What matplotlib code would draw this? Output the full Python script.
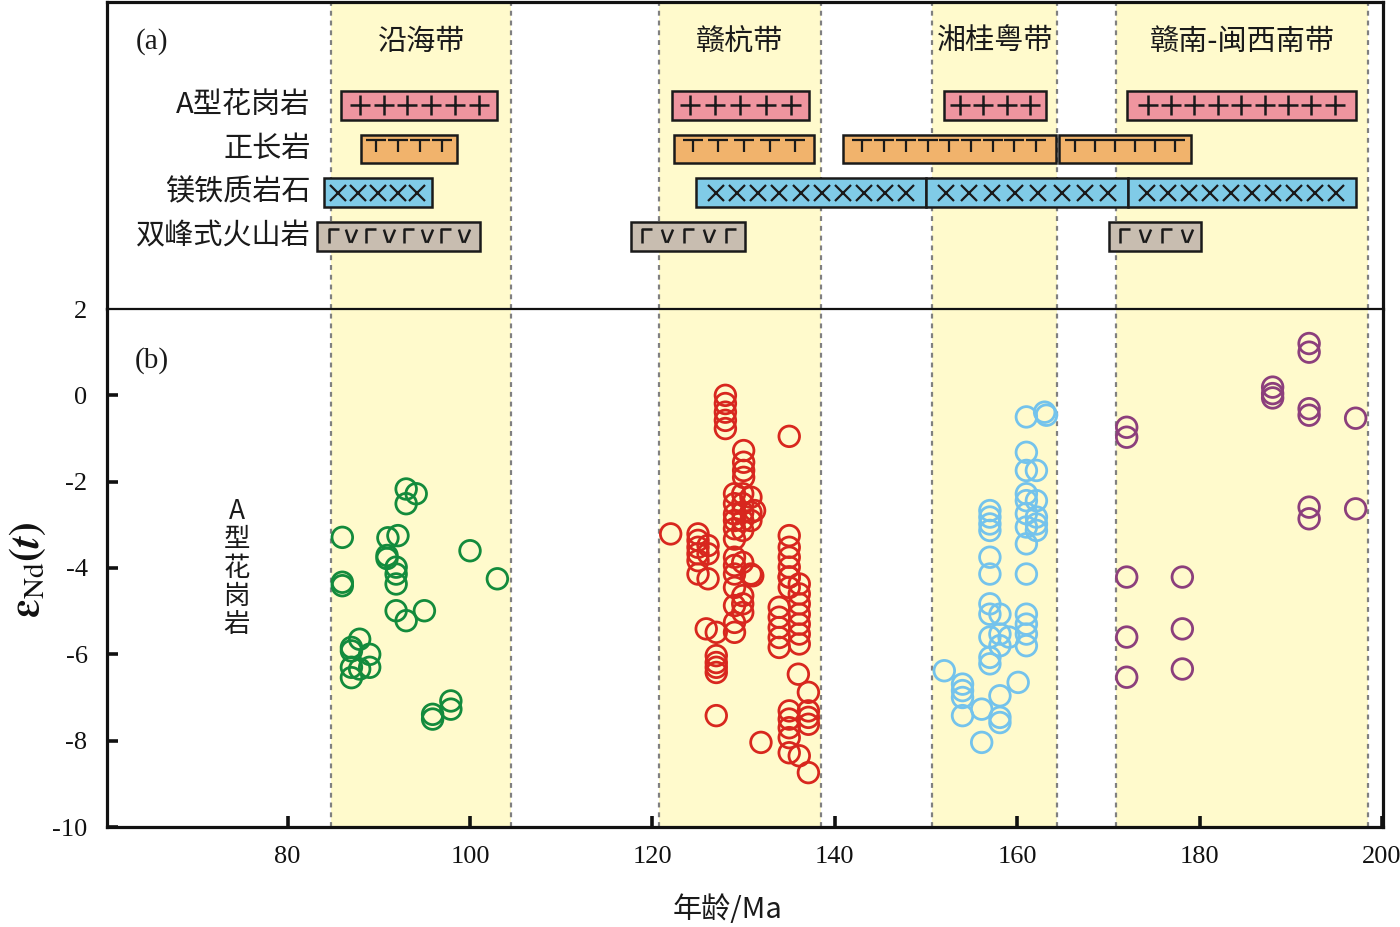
import numpy as np
import matplotlib
matplotlib.use("Agg")
import matplotlib.pyplot as plt
from matplotlib.path import Path

plt.rcParams["axes.unicode_minus"] = False
plt.rcParams["mathtext.fontset"] = "stix"

# ---------------- data ----------------
belts = ["沿海带", "赣杭带", "湘桂粤带", "赣南-闽西南带"]
belt_ranges = [(84.8, 104.5), (120.7, 138.5), (150.7, 164.4), (170.8, 198.5)]

rock_types = ["A型花岗岩", "正长岩", "镁铁质岩石", "双峰式火山岩"]
# age ranges (Ma) of each rock type bar: (start, end)
agranite_bars = [(85.9, 103.0), (122.1, 137.2), (152.0, 163.1), (172.0, 197.1)]
agranite_nsym = [6, 5, 4, 9]
syenite_bars = [(88.1, 98.6), (122.4, 137.7), (140.9, 164.2), (164.6, 179.0)]
syenite_nsym = [4, 5, 9, 6]
mafic_bars = [(84.0, 95.8), (124.8, 150.0), (150.0, 172.1), (172.1, 197.1)]
mafic_nsym = [5, 10, 8, 10]
bimodal_bars = [(83.2, 101.1), (117.7, 130.1), (170.1, 180.2)]
bimodal_nsym = [8, 5, 4]

# eNd(t) vs age of A-type granites
coastal_age = [93.0, 94.1, 93.0, 86.0, 91.0, 92.1, 90.9, 90.9, 91.9, 91.9, 91.9, 86.0, 86.0,
               100.0, 103.0, 91.9, 93.0, 95.0, 87.9, 87.0, 87.0, 89.0, 89.0, 87.9, 87.0, 87.0,
               97.9, 97.9, 95.9, 95.9]
coastal_end = [-2.17, -2.28, -2.51, -3.29, -3.30, -3.25, -3.71, -3.78, -3.98, -4.14, -4.37, -4.33, -4.41,
               -3.60, -4.25, -4.99, -5.22, -4.99, -5.65, -5.84, -5.92, -6.00, -6.30, -6.34, -6.30, -6.54,
               -7.08, -7.27, -7.39, -7.50]

ganhang_age = [128.0, 128.0, 128.0, 128.0, 128.0, 135.0,
               130.0, 130.0, 130.0, 130.0,
               129.0, 129.9, 130.8, 129.0, 129.9, 129.0, 129.9, 130.8, 129.0, 129.9, 130.8, 129.0, 129.9,
               129.0, 131.2,
               122.0, 125.0, 125.0, 125.0, 125.0, 125.0, 126.1, 126.1,
               135.0, 135.0, 135.0, 135.0, 135.0,
               129.0, 129.0, 129.9, 130.8,
               125.0, 126.1, 129.0, 131.0,
               129.0, 129.9, 129.0, 129.9, 129.9, 129.0, 129.0,
               125.9, 127.0, 127.0, 127.0, 127.0, 127.0, 127.0,
               135.0, 135.0, 136.1, 136.1,
               133.9, 133.9, 133.9, 133.9, 133.9,
               136.1, 136.1, 136.1, 136.1, 136.1,
               136.0, 137.1,
               135.0, 135.0, 135.0, 135.0, 137.1, 137.1, 137.1,
               131.9, 135.0, 136.1, 137.1]
ganhang_end = [0.00, -0.19, -0.39, -0.58, -0.77, -0.95,
               -1.28, -1.55, -1.74, -1.90,
               -2.28, -2.28, -2.36, -2.51, -2.51, -2.75, -2.71, -2.71, -2.90, -2.90, -2.90, -3.09, -3.13,
               -3.33, -2.67,
               -3.21, -3.21, -3.36, -3.52, -3.67, -3.83, -3.48, -3.67,
               -3.25, -3.52, -3.75, -3.98, -4.21,
               -3.75, -3.94, -3.87, -4.14,
               -4.14, -4.25, -4.14, -4.18,
               -4.45, -4.64, -4.87, -4.83, -5.03, -5.26, -5.49,
               -5.41, -5.49, -6.03, -6.19, -6.30, -6.42, -7.42,
               -4.21, -4.45, -4.37, -4.60,
               -4.91, -5.14, -5.38, -5.61, -5.84,
               -4.83, -5.07, -5.30, -5.53, -5.76,
               -6.46, -6.88,
               -7.31, -7.50, -7.70, -7.93, -7.31, -7.46, -7.62,
               -8.04, -8.28, -8.35, -8.74]

xianggui_age = [163.0, 163.2, 161.0, 161.0, 161.0, 162.1,
                161.0, 162.1, 161.0, 161.0, 162.1, 162.1, 161.0, 162.1, 161.0,
                157.0, 157.0, 157.0, 157.0, 157.0, 161.0, 157.0,
                157.0, 157.0, 158.1, 161.0, 161.0, 161.0, 161.0,
                157.0, 158.1, 159.1, 158.1, 157.0, 157.0,
                152.0, 154.0, 154.0, 154.0, 154.0, 156.1, 158.1, 158.1, 158.1, 160.1, 156.1]
xianggui_end = [-0.39, -0.46, -0.50, -1.32, -1.74, -1.74,
                -2.28, -2.44, -2.44, -2.74, -2.82, -2.98, -3.05, -3.13, -3.44,
                -2.67, -2.82, -2.98, -3.13, -3.75, -4.14, -4.14,
                -4.83, -5.07, -5.07, -5.07, -5.30, -5.53, -5.80,
                -5.60, -5.53, -5.60, -5.80, -6.07, -6.22,
                -6.38, -6.69, -6.84, -7.00, -7.42, -7.27, -6.96, -7.46, -7.58, -6.65, -8.04]

gannan_age = [192.0, 192.0, 188.0, 188.0, 188.0, 192.0, 192.0, 197.1, 172.0, 172.0,
              192.0, 192.0, 197.1, 172.0, 178.1, 172.0, 178.1, 172.0, 178.1]
gannan_end = [1.20, 1.00, 0.19, 0.04, -0.06, -0.31, -0.46, -0.53, -0.74, -0.97,
              -2.59, -2.86, -2.63, -4.21, -4.21, -5.60, -5.41, -6.53, -6.34]

# ---------------- style ----------------
W, H = 1400, 927
fig = plt.figure(figsize=(W / 100, H / 100), dpi=100)
serif = "Liberation Serif"
cjk = ["Noto Sans CJK SC", "DejaVu Sans"]

band_color = "#fffacc"
dot_color = "#808080"
ink = "#1a1a1a"

def px_rect(x0, y0, x1, y1):
    return [x0 / W, 1 - y1 / H, (x1 - x0) / W, (y1 - y0) / H]

ax_top = fig.add_axes(px_rect(107, 2, 1383, 309))
ax = fig.add_axes(px_rect(107, 309, 1383, 827))

xlim = (60.2, 200.1)
for a in (ax_top, ax):
    a.set_xlim(*xlim)
    for (b0, b1) in belt_ranges:
        a.axvspan(b0, b1, color=band_color, lw=0, zorder=0)
        for xv in (b0, b1):
            a.axvline(xv, color=dot_color, lw=1.6, ls=(0, (2.2, 2.2)), zorder=1)

# ---------- top panel ----------
ax_top.set_ylim(4.66, -2.36)
ax_top.set_xticks([])
ax_top.set_yticks([])
for s in ("left", "top", "right"):
    ax_top.spines[s].set_linewidth(2.3)
    ax_top.spines[s].set_color("#111111")
ax_top.spines["bottom"].set_visible(False)

bar_h = 0.66
T_path = Path([(-1, 0.55), (1, 0.55), (0, 0.55), (0, -0.55)],
              [Path.MOVETO, Path.LINETO, Path.MOVETO, Path.LINETO])
corner_path = Path([(-0.6, -1), (-0.6, 1), (0.9, 1)],
                   [Path.MOVETO, Path.LINETO, Path.LINETO])
vee_path = Path([(-0.8, 1), (-0.2, -0.9), (0.0, -0.9), (0.8, 1)],
                [Path.MOVETO, Path.LINETO, Path.MOVETO, Path.LINETO])

rows = [
    (agranite_bars, agranite_nsym, "#ef959f", "plus"),
    (syenite_bars, syenite_nsym, "#f1b36c", "T"),
    (mafic_bars, mafic_nsym, "#80cbe7", "x"),
    (bimodal_bars, bimodal_nsym, "#c8bdb0", "volc"),
]

sym_kw = dict(ls="none", color=ink, mfc="none", zorder=4)
for i, (bars, nsyms, col, sym) in enumerate(rows):
    for (x0, x1), n in zip(bars, nsyms):
        ax_top.barh(i, x1 - x0, left=x0, height=bar_h, color=col,
                    edgecolor=ink, lw=1.8, zorder=3)
        frac = 0.04 + 0.92 * (np.arange(n) + 0.5) / n
        pos = x0 + (x1 - x0) * frac
        yy = np.full(n, float(i))
        if sym == "plus":
            ax_top.plot(pos, yy, marker="+", ms=14.5, mew=1.8, **sym_kw)
        elif sym == "T":
            ax_top.plot(pos, yy - 0.06, marker=T_path, ms=15, mew=1.6, **sym_kw)
        elif sym == "x":
            ax_top.plot(pos, yy, marker="x", ms=11.5, mew=1.6, **sym_kw)
        else:
            ax_top.plot(pos[::2], yy[::2], marker=corner_path, ms=10, mew=1.8, **sym_kw)
            ax_top.plot(pos[1::2], yy[1::2], marker=vee_path, ms=10, mew=1.8, **sym_kw)
    ax_top.text(82.5, i, rock_types[i], ha="right", va="center",
                fontsize=21, family=cjk, color=ink)

for (b0, b1), name in zip(belt_ranges, belts):
    ax_top.text((b0 + b1) / 2, -1.45, name, ha="center", va="center",
                fontsize=21, family=cjk, color=ink)

ax_top.text(65.1, -1.45, "(a)", ha="center", va="center", fontsize=21,
            family=serif, color=ink)

# ---------- bottom panel ----------
ax.set_ylim(-10, 2)
ax.set_yticks([-10, -8, -6, -4, -2, 0, 2])
ax.set_xticks([80, 100, 120, 140, 160, 180, 200])
ax.tick_params(axis="both", direction="in", length=8, width=2.6,
               labelsize=19, colors="#111111")
ax.tick_params(axis="y", pad=14)
ax.tick_params(axis="x", pad=14)
for lab in ax.get_xticklabels() + ax.get_yticklabels():
    lab.set_family(serif)
ax.yaxis.get_major_ticks()[-1].tick1line.set_visible(False)
for s in ("left", "bottom", "right"):
    ax.spines[s].set_linewidth(2.3)
    ax.spines[s].set_color("#111111")
ax.spines["top"].set_linewidth(1.6)
ax.spines["top"].set_color("#111111")

mk = dict(s=220, facecolors="none", linewidths=2.0, zorder=5)
ax.scatter(coastal_age, coastal_end, edgecolors="#138b3c", **mk)
ax.scatter(ganhang_age, ganhang_end, edgecolors="#d8271e", **mk)
ax.scatter(xianggui_age, xianggui_end, edgecolors="#74c3ec", **mk)
ax.scatter(gannan_age, gannan_end, edgecolors="#8c3f7c", **mk)

ax.text(65.1, 0.81, "(b)", ha="center", va="center", fontsize=21,
        family=serif, color=ink)
ax.text(74.4, -4.0, "A\n型\n花\n岗\n岩", ha="center", va="center",
        fontsize=19, family=cjk, color=ink, linespacing=1.05)

fig.text(27 / W, 1 - 570 / H, r"$\boldsymbol{\varepsilon}_{\mathrm{Nd}}\mathbf{(}\boldsymbol{t}\mathbf{)}$",
         rotation=90, ha="center", va="center", fontsize=30, color="#111111")
fig.text(728 / W, 1 - 910 / H, "年龄/Ma", ha="center", va="center",
         fontsize=21, family=cjk, color=ink)

fig.savefig("out.png", dpi=100)
